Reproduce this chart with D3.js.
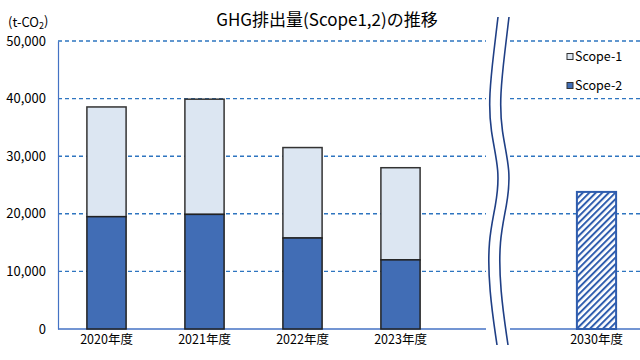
<!DOCTYPE html>
<html><head><meta charset="utf-8">
<script src="https://cdn.jsdelivr.net/npm/d3@7/dist/d3.min.js"></script>
<style>
html,body{margin:0;padding:0;background:#fff;}
svg{display:block;}
text{font-family:"Liberation Sans Narrow","Noto Sans CJK JP",sans-serif;fill:#000;}
</style></head>
<body><svg id="c" width="640" height="360"></svg>
<script>
const categories = ["2020年度","2021年度","2022年度","2023年度","","2030年度"];
const scope2 = [19500, 19900, 15800, 12000, null, null];
const scope1 = [19050, 20000, 15700, 16000, null, null];
const target2030 = [null, null, null, null, null, 23800];
const yTicks = [0, 10000, 20000, 30000, 40000, 50000];
const seriesNames = ["Scope-1", "Scope-2"];
const title = "GHG排出量(Scope1,2)の推移";

const svg = d3.select("#c");
const x = d3.scaleBand().domain(categories.map((d,i)=>i)).range([57.5, 645.5]).paddingInner(0.6).paddingOuter(0.3);
const y = d3.scaleLinear().domain([0, 50000]).range([329, 41]);

const defs = svg.append("defs");
const pat = defs.append("pattern").attr("id","hatch").attr("patternUnits","userSpaceOnUse")
  .attr("width",4.6).attr("height",4.6).attr("patternTransform","rotate(45)");
pat.append("rect").attr("width",4.6).attr("height",4.6).attr("fill","#fff");
pat.append("line").attr("x1",1).attr("y1",0).attr("x2",1).attr("y2",4.6).attr("stroke","#2F5DAE").attr("stroke-width",2);

const breakL = 486, breakR = 510;

// gridlines
const grid = svg.append("g");
yTicks.filter(t=>t>0).forEach(t=>{
  [[58,breakL],[breakR,640]].forEach(([a,b])=>{
    grid.append("line").attr("x1",a).attr("x2",b).attr("y1",y(t)).attr("y2",y(t))
      .attr("stroke","#2E75C0").attr("stroke-width",1.4).attr("stroke-dasharray","4,3");
  });
});

// y axis
const yAxis = d3.axisLeft(y).tickValues(yTicks).tickSize(0).tickPadding(12)
  .tickFormat(d3.format(","));
const ya = svg.append("g").attr("transform","translate(58,0)").call(yAxis);
ya.select(".domain").attr("stroke","#4472C4").attr("stroke-width",1.2);
ya.selectAll("text").attr("font-size",13).attr("font-family","Liberation Sans Narrow, sans-serif");

// x axis baseline
[[58,breakL],[breakR,640]].forEach(([a,b])=>{
  svg.append("line").attr("x1",a).attr("x2",b).attr("y1",y(0)).attr("y2",y(0))
    .attr("stroke","#4472C4").attr("stroke-width",1.5);
});
const xAxis = d3.axisBottom(x).tickSize(0).tickPadding(4).tickFormat(i=>categories[i]);
const xa = svg.append("g").attr("transform",`translate(0,${y(0)})`).call(xAxis);
xa.select(".domain").remove();
xa.selectAll("text").attr("font-size",12.5).attr("dy","0.9em");

// bars
const bars = svg.append("g");
categories.forEach((c,i)=>{
  if (scope2[i] != null) {
    bars.append("rect").attr("x",x(i)).attr("width",x.bandwidth())
      .attr("y",y(scope2[i]+scope1[i])).attr("height",y(scope2[i])-y(scope2[i]+scope1[i]))
      .attr("fill","#DCE6F2").attr("stroke","#333").attr("stroke-width",1.5);
    bars.append("rect").attr("x",x(i)).attr("width",x.bandwidth())
      .attr("y",y(scope2[i])).attr("height",y(0)-y(scope2[i]))
      .attr("fill","#416DB5").attr("stroke","#222").attr("stroke-width",1.5);
  }
  if (target2030[i] != null) {
    bars.append("rect").attr("x",x(i)).attr("width",x.bandwidth())
      .attr("y",y(target2030[i])).attr("height",y(0)-y(target2030[i]))
      .attr("fill","url(#hatch)").attr("stroke","#2F5DAE").attr("stroke-width",2);
  }
});

// wavy break
const wave = [[498,17],[494,50],[489,95],[490,130],[500,172],[496,205],[488,240],[489,290],[497,345]];
const line = d3.line().curve(d3.curveBasis);
const off = 11;
const right = wave.map(p=>[p[0]+off,p[1]]);
const leftD = line(wave), rightD = line(right.slice().reverse());
svg.append("path").attr("d", leftD + "L" + rightD.slice(1) + "Z").attr("fill","#fff").attr("stroke","none");
svg.append("path").attr("d", leftD).attr("fill","none").attr("stroke","#1F3F85").attr("stroke-width",1.6);
svg.append("path").attr("d", line(right)).attr("fill","none").attr("stroke","#1F3F85").attr("stroke-width",1.6);

// legend
const legColors = ["#DCE6F2","#416DB5"];
seriesNames.forEach((n,i)=>{
  const ly = 57 + i*29;
  svg.append("rect").attr("x",567).attr("y",ly-3.5).attr("width",6).attr("height",6)
    .attr("fill",legColors[i]).attr("stroke","#333").attr("stroke-width",1);
  svg.append("text").attr("x",575).attr("y",ly).attr("dy","0.35em").attr("font-size",12.5).text(n);
});

// title
svg.append("text").attr("x",327).attr("y",20).attr("dy","0.35em").attr("text-anchor","middle")
  .attr("font-size",17).attr("font-weight","normal").text(title);

// unit
const u = svg.append("text").attr("x",8).attr("y",22).attr("dy","0.35em").attr("font-size",13);
u.append("tspan").text("(t-CO");
u.append("tspan").attr("font-size",9).attr("dy","0.25em").text("2");
u.append("tspan").attr("dy","-0.25em").text(")");
</script></body></html>
